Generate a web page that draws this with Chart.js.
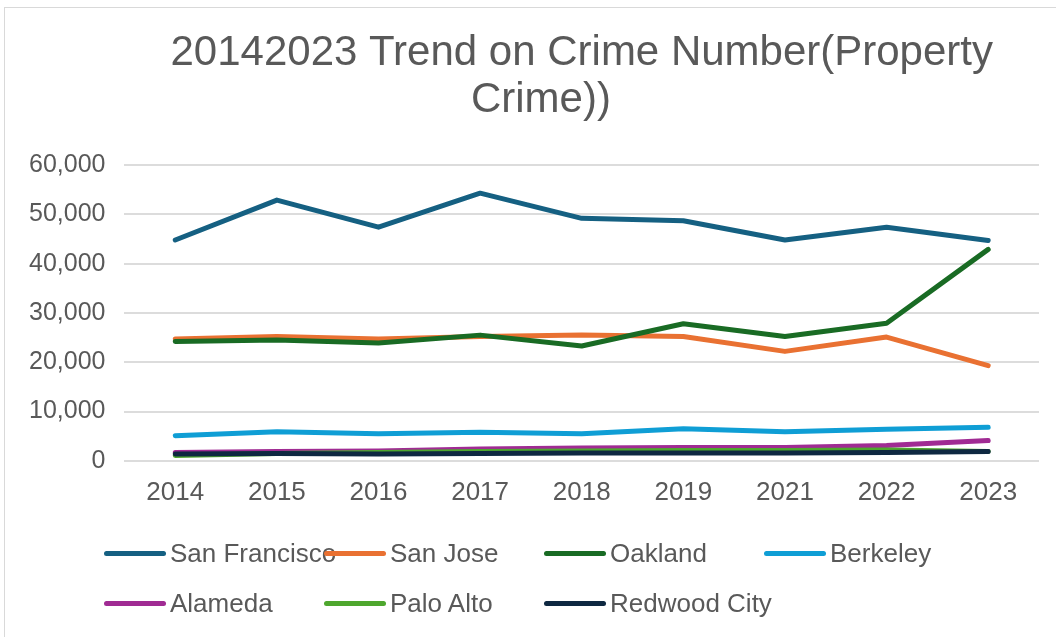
<!DOCTYPE html>
<html>
<head>
<meta charset="utf-8">
<script src="https://cdn.jsdelivr.net/npm/chart.js@4/dist/chart.umd.min.js"></script>
<style>
  html, body { margin: 0; padding: 0; background: #fff; }
  body { width: 1056px; height: 637px; overflow: hidden; position: relative; font-family: "Liberation Sans", Arial, sans-serif; }
  .marco { position: absolute; left: 4px; top: 7px; width: 1300px; height: 800px; border: 1px solid #d9d9d9; }
  #grafico { position: absolute; left: 5px; top: 8px; }
  #legenda { position: absolute; left: 104px; top: 528px; display: grid; grid-template-columns: repeat(4, 220px); }
  .item { display: flex; align-items: center; height: 50px; white-space: nowrap; }
  .traco { width: 62px; height: 5px; border-radius: 3px; flex: none; }
  .nome { font-size: 26px; color: #595959; margin-left: 4px; }
</style>
</head>
<body>
<div class="marco"></div>
<canvas id="grafico" width="1166" height="526"></canvas>
<div id="legenda"></div>
<script>
// dados
var anos = ['2014', '2015', '2016', '2017', '2018', '2019', '2021', '2022', '2023']
var cidades = ['San Francisco', 'San Jose', 'Oakland', 'Berkeley', 'Alameda', 'Palo Alto', 'Redwood City']

var sanFrancisco = [44800, 52900, 47400, 54300, 49200, 48700, 44800, 47400, 44700]
var sanJose = [24700, 25200, 24700, 25200, 25500, 25200, 22200, 25100, 19300]
var oakland = [24200, 24500, 23900, 25500, 23300, 27800, 25200, 27900, 42900]
var berkeley = [5100, 5900, 5500, 5800, 5500, 6500, 5900, 6400, 6800]
var alameda = [1700, 1900, 2000, 2400, 2600, 2700, 2700, 3100, 4100]
var paloAlto = [1100, 1500, 1700, 1900, 2000, 2100, 2100, 2200, 1900]
var redwoodCity = [1400, 1500, 1400, 1500, 1600, 1600, 1600, 1700, 1900]

var valores = [sanFrancisco, sanJose, oakland, berkeley, alameda, paloAlto, redwoodCity]
var cores = ['#156082', '#e97132', '#196b24', '#0f9ed5', '#a02b93', '#4ea72e', '#0e2841']

var ticksY = [0, 10000, 20000, 30000, 40000, 50000, 60000]

var fonte = '"Liberation Sans", Arial, sans-serif'

var series = []
cidades.forEach((c, i) => {
  series.push({
    label: c,
    data: valores[i],
    borderColor: cores[i],
    backgroundColor: cores[i],
    borderWidth: 5,
    pointRadius: 0,
    borderCapStyle: 'round',
    borderJoinStyle: 'round',
    tension: 0,
    // as ultimas series ficam por cima, como no excel
    order: cidades.length - i
  })
})

var ctx = document.getElementById('grafico').getContext('2d')
var grafico = new Chart(ctx, {
  type: 'line',
  data: {
    labels: anos,
    datasets: series
  },
  options: {
    responsive: false,
    animation: false,
    devicePixelRatio: 1,
    layout: {
      padding: { left: 5, right: 132, top: 0, bottom: 10 }
    },
    plugins: {
      legend: { display: false },
      tooltip: { enabled: false },
      title: {
        display: true,
        fullSize: false,
        text: ['20142023 Trend on Crime Number(Property', 'Crime))       '],
        color: '#595959',
        font: { family: fonte, size: 42, weight: 'normal', lineHeight: 1.12 },
        padding: { top: 22, bottom: 41 }
      }
    },
    scales: {
      x: {
        offset: true,
        grid: { display: false, drawTicks: false },
        border: { display: false },
        ticks: {
          color: '#595959',
          padding: 16,
          font: { family: fonte, size: 26 }
        }
      },
      y: {
        min: 0,
        max: 60000,
        afterBuildTicks: function (eixo) {
          eixo.ticks = ticksY.map(v => ({ value: v }))
        },
        grid: { color: '#dcdcdc', lineWidth: 2, drawTicks: false },
        border: { display: false },
        ticks: {
          color: '#595959',
          padding: 19,
          font: { family: fonte, size: 25 },
          callback: function (v) {
            return v.toLocaleString('en-US')
          }
        }
      }
    }
  }
})

// legenda em html, montada a partir dos datasets do grafico
var legenda = document.getElementById('legenda')
grafico.data.datasets.forEach((d) => {
  var item = document.createElement('div')
  item.className = 'item'
  var traco = document.createElement('div')
  traco.className = 'traco'
  traco.style.background = d.borderColor
  var nome = document.createElement('span')
  nome.className = 'nome'
  nome.innerHTML = d.label
  item.appendChild(traco)
  item.appendChild(nome)
  legenda.appendChild(item)
})
</script>
</body>
</html>
